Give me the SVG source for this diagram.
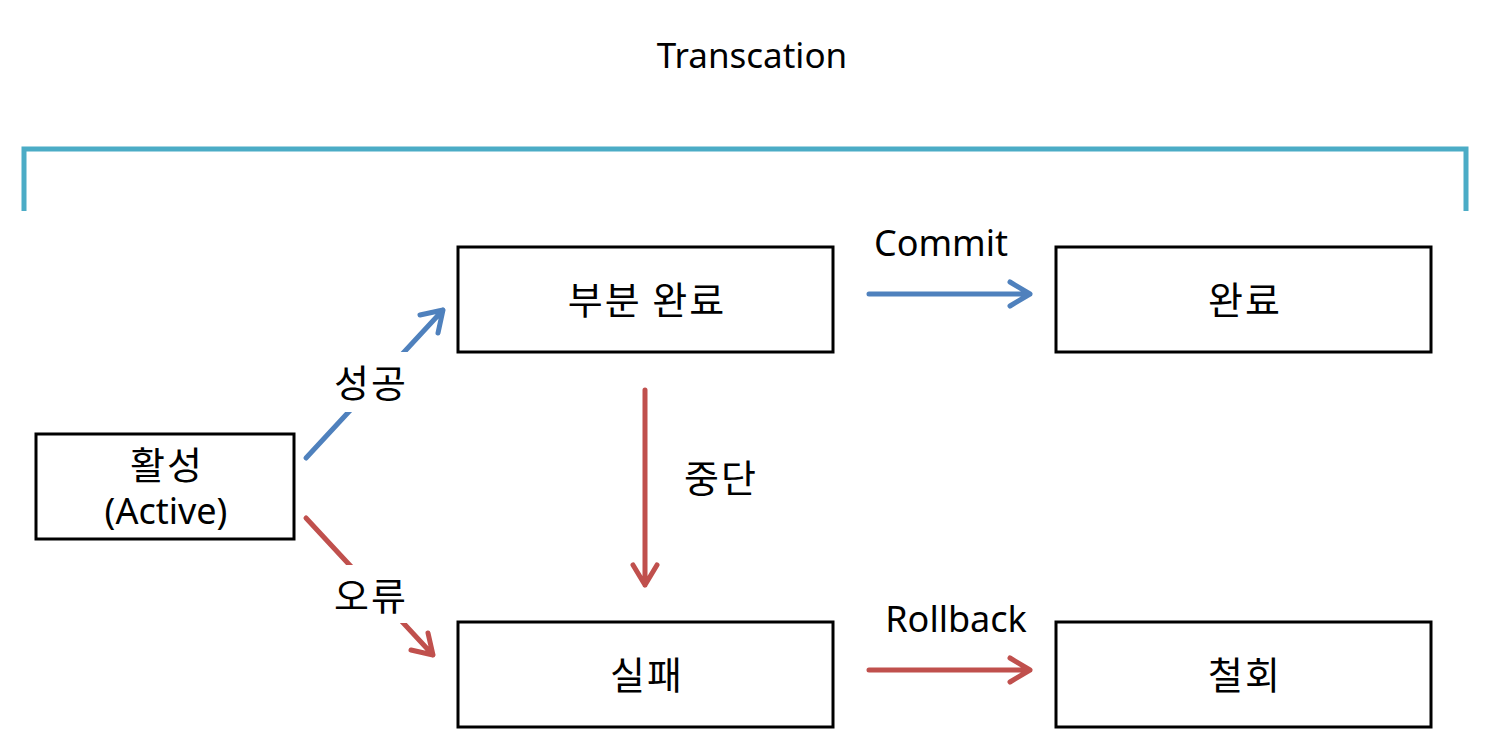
<svg xmlns="http://www.w3.org/2000/svg" width="1490" height="731" viewBox="0 0 1490 731">
<style>
.box{fill:#fff;stroke:#000;stroke-width:3}
.t{font-family:"Noto Sans","Noto Sans CJK KR",sans-serif;font-size:36px;fill:#000;text-anchor:middle}
.k{font-family:"Noto Sans CJK KR",sans-serif;font-size:38px;letter-spacing:2px;fill:#000;text-anchor:middle}
.blue{stroke:#4F81BD;stroke-width:5;fill:none;stroke-linecap:round;stroke-linejoin:round}
.red{stroke:#C0504D;stroke-width:5;fill:none;stroke-linecap:round;stroke-linejoin:round}
</style>
<rect width="1490" height="731" fill="#fff"/>
<text class="t" x="752" y="68" style="font-size:35px">Transcation</text>
<path d="M24,211 V149 H1466 V211" fill="none" stroke="#4BACC6" stroke-width="5"/>
<g id="connectors">
<path class="blue" d="M306,458 L443,310 M420,315 L443,310 L438,333"/>
<path class="blue" d="M869,294 H1030 M1010,282 L1030,294 L1010,306"/>
<path class="red" d="M306,518 L433,655 M411,650 L433,655 L428,633"/>
<path class="red" d="M645,390 V585 M633,565 L645,585 L657,565"/>
<path class="red" d="M869,670 H1030 M1010,658 L1030,670 L1010,682"/>
<rect x="326" y="352" width="88" height="60" fill="#fff"/>
<text class="k" x="371" y="397">성공</text>
<rect x="326" y="565" width="88" height="58" fill="#fff"/>
<text class="k" x="371" y="610">오류</text>
<text class="k" x="721" y="492">중단</text>
<text class="t" x="941" y="256">Commit</text>
<text class="t" x="956" y="632">Rollback</text>
</g>
<g id="partial"><rect class="box" x="458" y="247" width="375" height="105"/><text class="k" x="647" y="314">부분 완료</text></g>
<g id="done"><rect class="box" x="1056" y="247" width="375" height="105"/><text class="k" x="1245" y="314">완료</text></g>
<g id="active"><rect class="box" x="36" y="434" width="258" height="105"/><text class="k" x="167" y="479">활성</text><text class="t" x="166" y="524">(Active)</text></g>
<g id="failed"><rect class="box" x="458" y="622" width="375" height="105"/><text class="k" x="647" y="689">실패</text></g>
<g id="aborted"><rect class="box" x="1056" y="622" width="375" height="105"/><text class="k" x="1245" y="689">철회</text></g>
</svg>
